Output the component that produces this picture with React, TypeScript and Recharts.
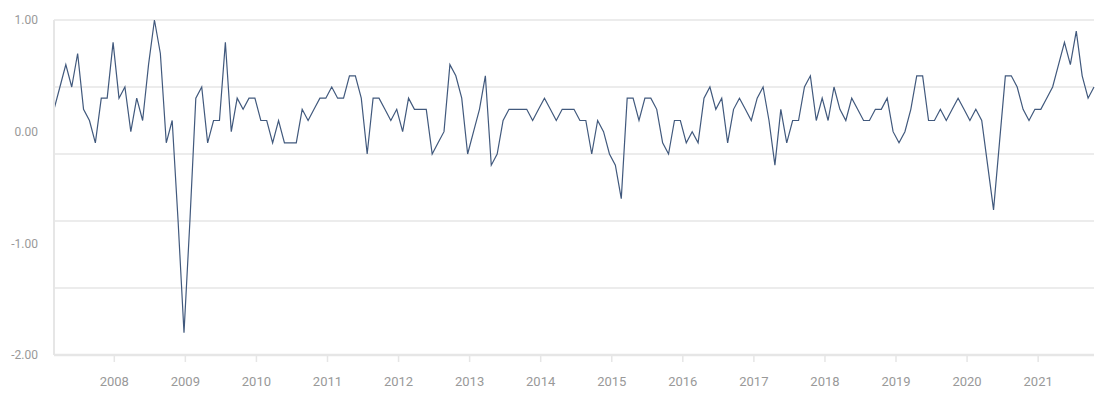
import React from 'react';
import {
  LineChart, Line, XAxis, YAxis, CartesianGrid,
} from 'recharts';

// monthly change, first point is Mar 2007, last is Nov 2021
const START_YEAR = 2007;
const START_MONTH = 2; // 0-based -> March

const values = [
  0.2, 0.4, 0.6, 0.4, 0.7, 0.2, 0.1, -0.1, 0.3, 0.3, // 2007 (Mar-Dec)
  0.8, 0.3, 0.4, 0.0, 0.3, 0.1, 0.6, 1.0, 0.7, -0.1, 0.1, -0.8, // 2008
  -1.8, -0.8, 0.3, 0.4, -0.1, 0.1, 0.1, 0.8, 0.0, 0.3, 0.2, 0.3, // 2009
  0.3, 0.1, 0.1, -0.1, 0.1, -0.1, -0.1, -0.1, 0.2, 0.1, 0.2, 0.3, // 2010
  0.3, 0.4, 0.3, 0.3, 0.5, 0.5, 0.3, -0.2, 0.3, 0.3, 0.2, 0.1, // 2011
  0.2, 0.0, 0.3, 0.2, 0.2, 0.2, -0.2, -0.1, 0.0, 0.6, 0.5, 0.3, // 2012
  -0.2, 0.0, 0.2, 0.5, -0.3, -0.2, 0.1, 0.2, 0.2, 0.2, 0.2, 0.1, // 2013
  0.2, 0.3, 0.2, 0.1, 0.2, 0.2, 0.2, 0.1, 0.1, -0.2, 0.1, 0.0, // 2014
  -0.2, -0.3, -0.6, 0.3, 0.3, 0.1, 0.3, 0.3, 0.2, -0.1, -0.2, 0.1, // 2015
  0.1, -0.1, 0.0, -0.1, 0.3, 0.4, 0.2, 0.3, -0.1, 0.2, 0.3, 0.2, // 2016
  0.1, 0.3, 0.4, 0.1, -0.3, 0.2, -0.1, 0.1, 0.1, 0.4, 0.5, 0.1, // 2017
  0.3, 0.1, 0.4, 0.2, 0.1, 0.3, 0.2, 0.1, 0.1, 0.2, 0.2, 0.3, // 2018
  0.0, -0.1, 0.0, 0.2, 0.5, 0.5, 0.1, 0.1, 0.2, 0.1, 0.2, 0.3, // 2019
  0.2, 0.1, 0.2, 0.1, -0.3, -0.7, -0.1, 0.5, 0.5, 0.4, 0.2, 0.1, // 2020
  0.2, 0.2, 0.3, 0.4, 0.6, 0.8, 0.6, 0.9, 0.5, 0.3, 0.4, // 2021 (Jan-Nov)
];

const years = [2008, 2009, 2010, 2011, 2012, 2013, 2014, 2015, 2016, 2017, 2018, 2019, 2020, 2021];
const yTicks = [1, 0, -1, -2];
const gridValues = [1, 0.4, -0.2, -0.8, -1.4, -2];

const data = values.map((v, i) => ({
  t: START_YEAR + (START_MONTH + i) / 12,
  value: v,
}));

// year marks in the original sit a touch right of the month points
const yearTicks = years.map((y) => y + 0.017 + (y - years[0]) * 0.0022);

const AXIS_GREY = '#e6e6e6';
const LABEL_GREY = '#999999';

export default function App() {
  return (
    <div style={{ width: 1094, height: 382, fontFamily: 'Roboto, sans-serif' }}>
      <LineChart
        width={1094}
        height={382}
        data={data}
        margin={{ top: 12, right: 8, bottom: 0, left: 0 }}
      >
        <CartesianGrid
          vertical={false}
          horizontalValues={gridValues}
          stroke={AXIS_GREY}
          strokeWidth={1.5}
        />
        <XAxis
          dataKey="t"
          type="number"
          domain={['dataMin', 'dataMax']}
          ticks={yearTicks}
          tickFormatter={(v: number) => String(Math.floor(v))}
          height={35}
          axisLine={{ stroke: AXIS_GREY, strokeWidth: 2.5 }}
          tickLine={{ stroke: AXIS_GREY, strokeWidth: 1.5 }}
          tickSize={7}
          tickMargin={15}
          tick={{ fill: LABEL_GREY, fontSize: 13 }}
        />
        <YAxis
          type="number"
          domain={[-2, 1]}
          ticks={yTicks}
          tickFormatter={(v: number) => v.toFixed(2)}
          width={46}
          axisLine={{ stroke: AXIS_GREY, strokeWidth: 2 }}
          tickLine={false}
          tickSize={0}
          tickMargin={16}
          tick={{ fill: LABEL_GREY, fontSize: 12 }}
        />
        <Line
          type="linear"
          dataKey="value"
          stroke="#41597d"
          strokeWidth={1.2}
          dot={false}
          isAnimationActive={false}
        />
      </LineChart>
    </div>
  );
}
